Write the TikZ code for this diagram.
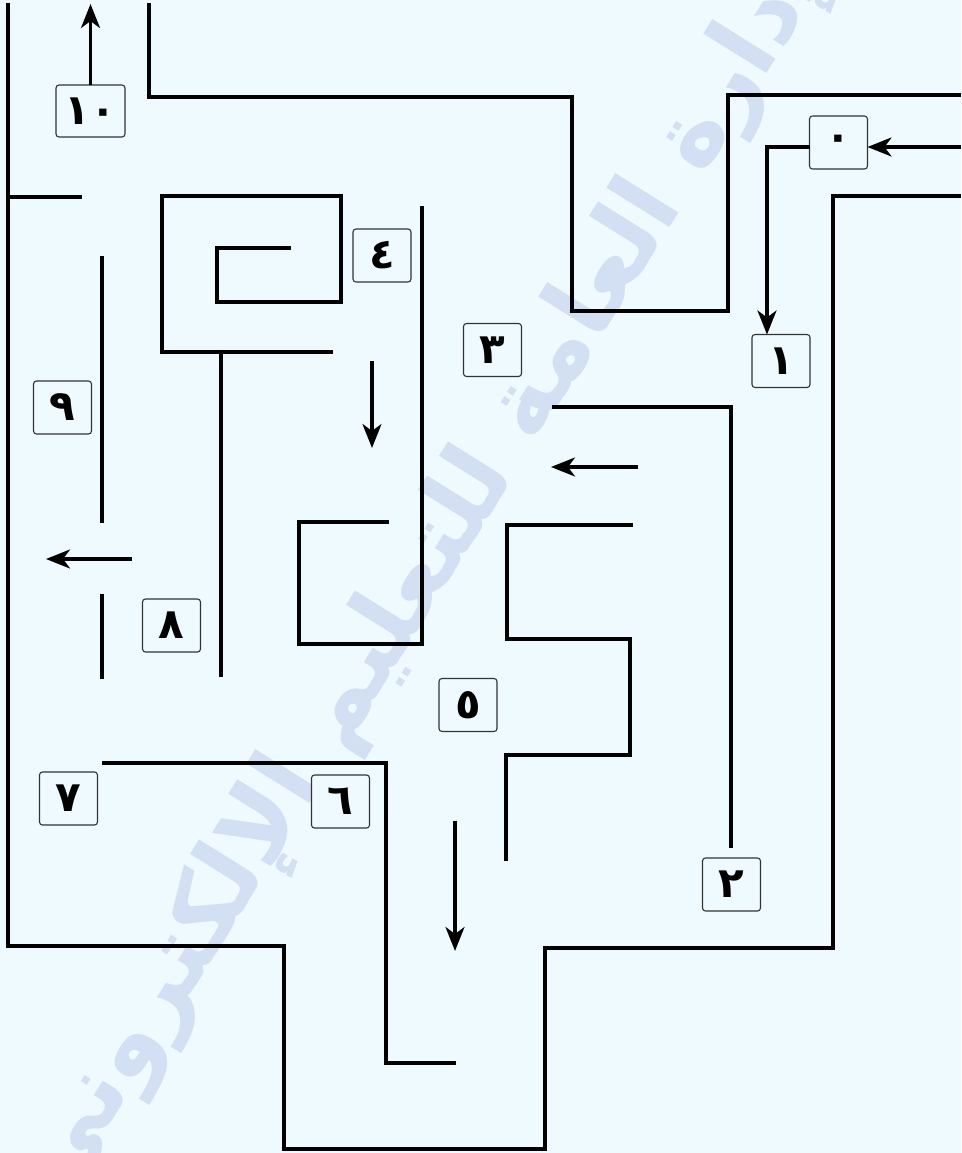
\documentclass[tikz,border=0pt]{standalone}
\usepackage{fontspec}
\usetikzlibrary{arrows.meta}
\TeXXeTstate=1
\newfontfamily\arabicfont[Script=Arabic]{DejaVu Sans}
\definecolor{bg}{RGB}{238,250,255}
\definecolor{wm}{RGB}{211,224,243}
\tikzset{
  wall/.style={line width=4.2pt, line cap=butt, line join=miter},
  arr/.style={line width=3.2pt, -{Stealth[length=24pt,width=19pt,inset=7pt]}},
  lbl/.style={draw=black!80, fill=bg, line width=1.1pt, rounded corners=3pt,
    minimum width=58pt, minimum height=53pt, inner sep=0pt, outer sep=0pt,
    font=\arabicfont\bfseries\fontsize{42}{42}\selectfont},
}
\begin{document}
\begin{tikzpicture}[x=1pt,y=-1pt]
\useasboundingbox (0,0) rectangle (961,1153);
\fill[bg] (0,0) rectangle (961,1153);
% watermark
\node[rotate=58, text=wm, inner sep=0pt,
  font=\arabicfont\bfseries\fontsize{98}{98}\selectfont] (wmark) at (440,548)
  {\beginR الإدارة العامة للتعليم الإلكتروني\endR};
% walls
\draw[wall] (8,3) -- (8,946) -- (284,946) -- (284,1149) -- (545,1149)
  -- (545,948) -- (833,948) -- (833,196) -- (961,196);
\draw[wall] (149,3) -- (149,97) -- (572,97) -- (572,311) -- (728,311)
  -- (728,95) -- (961,95);
\draw[wall] (8,197) -- (82,197);
\draw[wall] (102,256) -- (102,523);
\draw[wall] (102,594) -- (102,679);
\draw[wall] (291,248) -- (217,248) -- (217,302) -- (341,302) -- (341,196)
  -- (162,196) -- (162,352) -- (333,352);
\draw[wall] (221,352) -- (221,677);
\draw[wall] (422,206) -- (422,644) -- (299,644) -- (299,522) -- (389,522);
\draw[wall] (552,407) -- (731,407) -- (731,848);
\draw[wall] (633,525) -- (507,525) -- (507,639) -- (630,639) -- (630,755)
  -- (506,755) -- (506,861);
\draw[wall] (102,763) -- (386,763) -- (386,1063) -- (456,1063);
% labels
\node[lbl] (b0) at (838.5,142.5) {٠};
\node[lbl] (b1) at (781,361) {١};
\node[lbl] (b2) at (731.5,884.5) {٢};
\node[lbl] (b3) at (492.5,350) {٣};
\node[lbl] (b4) at (382,255.5) {٤};
\node[lbl] (b5) at (468,705) {٥};
\node[lbl] (b6) at (340.5,801.5) {٦};
\node[lbl] (b7) at (68.5,798.5) {٧};
\node[lbl] (b8) at (171.5,625.5) {٨};
\node[lbl] (b9) at (62.5,407.5) {٩};
\node[lbl, minimum width=69pt, minimum height=52pt] (b10) at (90.5,111) {١٠};
% arrows
\coordinate (in0) at (961,147);
\coordinate (turn) at (767,147);
\coordinate (out10) at (90.5,4);
\draw[arr] (in0) -- (in0 -| b0.east);
\draw[arr] (b0.west |- turn) -- (turn) -- (turn |- b1.north);
\draw[arr] (b10.north) -- (out10);
\coordinate (a4s) at (372,361); \coordinate (a4e) at (372,448);
\coordinate (a5s) at (638,467); \coordinate (a5e) at (551,467);
\coordinate (a6s) at (132,559); \coordinate (a6e) at (46,559);
\coordinate (a7s) at (455,821); \coordinate (a7e) at (455,951);
\draw[arr] (a4s) -- (a4e);
\draw[arr] (a5s) -- (a5e);
\draw[arr] (a6s) -- (a6e);
\draw[arr] (a7s) -- (a7e);
\end{tikzpicture}
\end{document}
